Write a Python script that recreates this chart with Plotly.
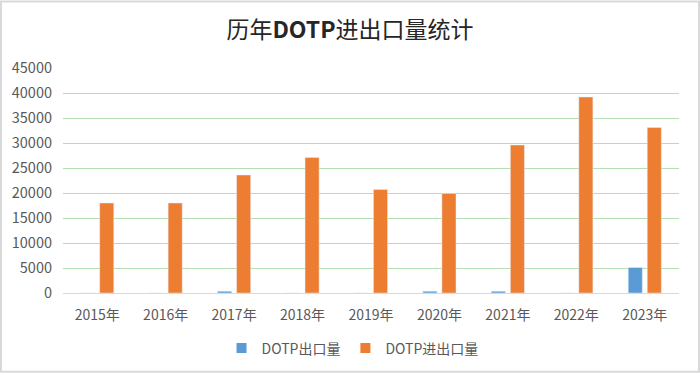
import plotly.graph_objects as go

years = ["2015年", "2016年", "2017年", "2018年", "2019年", "2020年", "2021年", "2022年", "2023年"]
export_vals = [0, 0, 350, 0, 0, 350, 350, 0, 5100]
import_vals = [18000, 18000, 23600, 27100, 20700, 19900, 29600, 39200, 33100]
y_ticks = [0, 5000, 10000, 15000, 20000, 25000, 30000, 35000, 40000, 45000]
names = ["DOTP出口量", "DOTP进出口量"]
colors = ["#5B9BD5", "#ED7D31"]

font_family = "Noto Sans CJK SC, Noto Sans, sans-serif"

fig = go.Figure()
for vals, nm, c in zip([export_vals, import_vals], names, colors):
    fig.add_trace(go.Bar(x=years, y=vals, name=nm, marker_color=c, showlegend=False, legendgroup=nm))
for nm, c in zip(names, colors):
    fig.add_trace(go.Scatter(x=[None], y=[None], mode="markers", name=nm, legendgroup=nm,
                             marker=dict(symbol="square", size=10, color=c)))

L, R, T, B = 63, 21, 68, 81
W, H = 700, 376
pw, ph = W - L - R, H - T - B

def px(xp):
    return (xp - L) / pw

def py(yp):
    return (H - B - yp) / ph

fig.update_layout(
    width=W, height=H,
    margin=dict(l=L, r=R, t=T, b=B),
    paper_bgcolor="white", plot_bgcolor="white",
    font=dict(family=font_family, size=14, color="#595959"),
    title=dict(text="历年<b>DOTP</b>进出口量统计", x=0.5, xanchor="center", y=1 - 30/376, yanchor="middle",
               font=dict(size=23, color="#262626", family=font_family)),
    barmode="group", bargap=0.444, bargroupgap=0.26,
    showlegend=True,
    legend=dict(orientation="h", x=0.47, xanchor="center", y=py(351), yanchor="middle",
                font=dict(size=14, color="#595959"), itemwidth=30, tracegroupgap=0),
    xaxis=dict(showgrid=False, showline=True, linecolor="#d9d9d9", linewidth=1,
               ticks="", ticklabelstandoff=9, tickfont=dict(size=14, color="#595959")),
    yaxis=dict(range=[0, 45000], tickvals=y_ticks, ticktext=[str(v) for v in y_ticks],
               showgrid=True, gridcolor="#b4dfb4", gridwidth=1, zeroline=False,
               showline=False, ticks="", ticklabelstandoff=10,
               tickfont=dict(size=14.5, color="#595959")),
    shapes=[dict(type="rect", xref="paper", yref="paper",
                 x0=px(1), x1=px(699), y0=py(374.5), y1=py(1),
                 line=dict(color="#d9d9d9", width=2), fillcolor="rgba(0,0,0,0)", layer="below")],
)

fig.write_html("out.html", config={"displayModeBar": False},
               post_script="document.body.style.margin='0px';document.body.style.overflow='hidden';")
